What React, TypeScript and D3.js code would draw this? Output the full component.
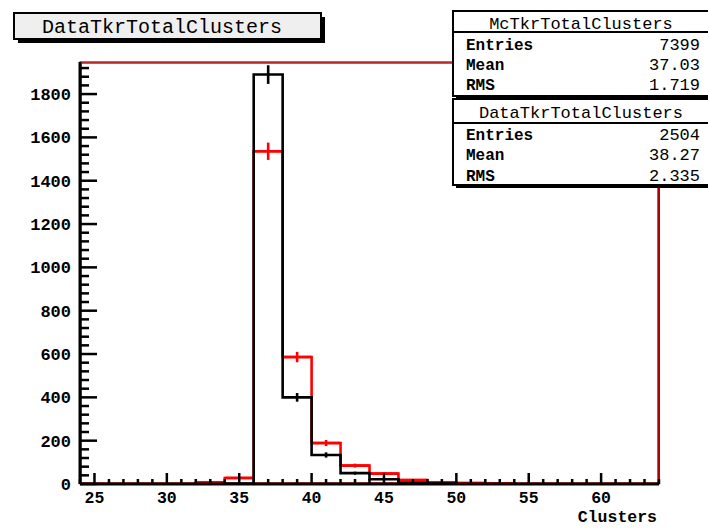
import React from "react";
import * as d3 from "d3";

// Bin lower edges (width 2) and contents
const binWidth = 2;
const dataBins = [34, 36, 38, 40, 42, 44, 46, 48];
const dataValues = [1, 1890, 400, 134, 50, 22, 6, 2];
const dataErrors = [1, 43, 20, 12, 7, 5, 2, 1];

const mcBins = [32, 34, 36, 38, 40, 42, 44, 46, 48, 50, 52];
const mcValues = [8, 28, 1536, 586, 189, 85, 48, 18, 8, 4, 3];
const mcErrors = [3, 5, 40, 24, 14, 9, 7, 4, 3, 2, 2];

const xTicks = [25, 30, 35, 40, 45, 50, 55, 60];
const yTicks = [0, 200, 400, 600, 800, 1000, 1200, 1400, 1600, 1800];

const titleText = "DataTkrTotalClusters";
const xLabel = "Clusters";
const statsNames = ["McTkrTotalClusters", "DataTkrTotalClusters"];
const statsEntries = ["7399", "2504"];
const statsMean = ["37.03", "38.27"];
const statsRms = ["1.719", "2.335"];

const W = 708;
const H = 528;
const L = 80, R = 659, T = 62, B = 484;
const FONT = "'Liberation Mono', 'Courier New', monospace";

function stepPath(x: d3.ScaleLinear<number, number>, y: d3.ScaleLinear<number, number>, bins: number[], vals: number[]) {
  const p = d3.path();
  p.moveTo(x(bins[0]), y(0));
  bins.forEach((b, i) => {
    p.lineTo(x(b), y(vals[i]));
    p.lineTo(x(b + binWidth), y(vals[i]));
  });
  p.lineTo(x(bins[bins.length - 1] + binWidth), y(0));
  return p.toString();
}

export default function App() {
  const x = d3.scaleLinear().domain([24, 64]).range([L, R]);
  const y = d3.scaleLinear().domain([0, 1948]).range([B, T]);

  const xMinor = d3.range(24, 65, 1).filter((v) => v % 5 !== 0);
  const yMinor = d3.range(0, 1948, 40).filter((v) => v % 200 !== 0);

  const statsBoxes = [
    { top: 11, sep: 32, bottom: 96, rows: [29, 50, 70, 90] },
    { top: 99, sep: 123, bottom: 185, rows: [118, 140, 160, 181] },
  ];

  return (
    <svg
      width={W}
      height={H}
      style={{ position: "absolute", left: 0, top: 0, background: "#fff" }}
    >
      <rect x={0} y={0} width={W} height={H} fill="#fff" />
      {/* plot frame */}
      <rect x={L} y={T} width={R - L} height={B - T} fill="#fff" stroke="#000" strokeWidth={1} />
      <rect x={L + 1} y={T + 1} width={R - L - 2} height={B - T - 2} fill="none" stroke="#d01010" strokeWidth={1.5} />

      {/* MC histogram (red) */}
      <path d={stepPath(x, y, mcBins, mcValues)} fill="none" stroke="#ff0000" strokeWidth={2.6} />
      {mcBins.map((b, i) => (
        <g key={"me" + i} stroke="#ff0000" strokeWidth={2.6}>
          <line x1={x(b)} x2={x(b + binWidth)} y1={y(mcValues[i])} y2={y(mcValues[i])} />
          <line x1={x(b + binWidth / 2)} x2={x(b + binWidth / 2)} y1={y(mcValues[i] - mcErrors[i])} y2={y(mcValues[i] + mcErrors[i])} />
        </g>
      ))}

      {/* Data histogram (black) */}
      <path d={stepPath(x, y, dataBins, dataValues)} fill="none" stroke="#000" strokeWidth={2.6} />
      {dataBins.map((b, i) => (
        <line
          key={"de" + i}
          x1={x(b + binWidth / 2)}
          x2={x(b + binWidth / 2)}
          y1={y(dataValues[i] - dataErrors[i])}
          y2={y(dataValues[i] + dataErrors[i])}
          stroke="#000"
          strokeWidth={2.6}
        />
      ))}

      {/* axes */}
      <line x1={L} x2={L} y1={T} y2={B} stroke="#000" strokeWidth={3} />
      <line x1={L} x2={R} y1={B} y2={B} stroke="#000" strokeWidth={3} />
      <line x1={R} x2={R} y1={T} y2={B} stroke="#b00000" strokeWidth={2} />

      {yTicks.map((t) => (
        <g key={"yt" + t}>
          <line x1={L} x2={L + 17} y1={y(t)} y2={y(t)} stroke="#000" strokeWidth={2.5} />
          <text
            x={71}
            y={y(t)}
            dy="0.35em"
            textAnchor="end"
            fontFamily={FONT}
            fontWeight="bold"
            fontSize={17}
          >
            {t}
          </text>
        </g>
      ))}
      {yMinor.map((t) => (
        <line key={"ym" + t} x1={L} x2={L + 9} y1={y(t)} y2={y(t)} stroke="#000" strokeWidth={2.5} />
      ))}

      {xTicks.map((t) => (
        <g key={"xt" + t}>
          <line x1={x(t)} x2={x(t)} y1={B} y2={B - 11} stroke="#000" strokeWidth={2.5} />
          <text
            x={x(t)}
            y={503}
            textAnchor="middle"
            fontFamily={FONT}
            fontWeight="bold"
            fontSize={16.5}
          >
            {t}
          </text>
        </g>
      ))}
      {xMinor.map((t) => (
        <line key={"xm" + t} x1={x(t)} x2={x(t)} y1={B} y2={B - 5} stroke="#000" strokeWidth={2.5} />
      ))}

      <text x={657} y={522} textAnchor="end" fontFamily={FONT} fontWeight="bold" fontSize={16.5}>
        {xLabel}
      </text>

      {/* title box */}
      <rect x={18} y={17} width={307} height={26} fill="#000" />
      <rect x={14} y={13} width={307} height={26} fill="#efefef" stroke="#000" strokeWidth={2} />
      <text x={162} y={33} textAnchor="middle" fontFamily={FONT} fontSize={20}>
        {titleText}
      </text>

      {/* stats boxes */}
      {statsBoxes.map((s, i) => (
        <g key={"sb" + i}>
          <rect x={456} y={s.top + 3} width={260} height={s.bottom - s.top} fill="#000" />
          <rect x={453} y={s.top} width={262} height={s.bottom - s.top} fill="#fff" stroke="#000" strokeWidth={2} />
          <line x1={453} x2={715} y1={s.sep} y2={s.sep} stroke="#000" strokeWidth={2} />
          <text x={581} y={s.rows[0]} textAnchor="middle" fontFamily={FONT} fontSize={17}>
            {statsNames[i]}
          </text>
          {[
            ["Entries", statsEntries[i]],
            ["Mean", statsMean[i]],
            ["RMS", statsRms[i]],
          ].map(([lab, val], j) => (
            <g key={"r" + j}>
              <text x={466} y={s.rows[j + 1]} fontFamily={FONT} fontWeight="bold" fontSize={16}>
                {lab}
              </text>
              <text x={700} y={s.rows[j + 1]} textAnchor="end" fontFamily={FONT} fontSize={17}>
                {val}
              </text>
            </g>
          ))}
        </g>
      ))}
    </svg>
  );
}
